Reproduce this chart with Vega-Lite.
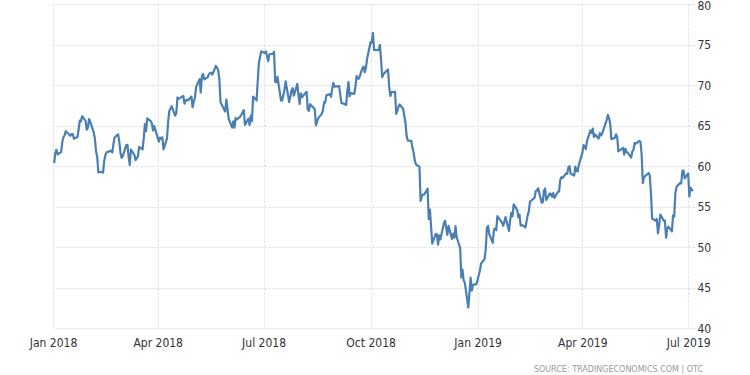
{
  "$schema": "https://vega.github.io/schema/vega-lite/v6.json",
  "autosize": "none",
  "width": 641,
  "height": 324,
  "padding": {"left": 53, "top": 4, "right": 56, "bottom": 47},
  "background": "white",
  "config": {
    "view": {"stroke": null},
    "font": "DejaVu Sans Condensed",
    "axis": {"labelFont": "DejaVu Sans Condensed", "labelFontSize": 12, "labelColor": "#333333"}
  },
  "title": {
    "text": "SOURCE: TRADINGECONOMICS.COM | OTC",
    "orient": "bottom",
    "anchor": "end",
    "frame": "group",
    "fontSize": 8,
    "fontWeight": "normal",
    "color": "#9a9a9a",
    "font": "DejaVu Sans",
    "offset": 18,
    "dx": 9
  },
  "data": {
    "values": [
      {"date": "2018-01-02", "price": 60.37}, {"date": "2018-01-03", "price": 61.63}, {"date": "2018-01-04", "price": 62.01}, {"date": "2018-01-05", "price": 61.44},
      {"date": "2018-01-08", "price": 61.73}, {"date": "2018-01-09", "price": 62.96}, {"date": "2018-01-10", "price": 63.57}, {"date": "2018-01-11", "price": 63.8},
      {"date": "2018-01-12", "price": 64.3}, {"date": "2018-01-16", "price": 63.73}, {"date": "2018-01-17", "price": 63.97}, {"date": "2018-01-18", "price": 63.95},
      {"date": "2018-01-19", "price": 63.37}, {"date": "2018-01-22", "price": 63.57}, {"date": "2018-01-23", "price": 64.47}, {"date": "2018-01-24", "price": 65.61},
      {"date": "2018-01-25", "price": 65.51}, {"date": "2018-01-26", "price": 66.14}, {"date": "2018-01-29", "price": 65.56}, {"date": "2018-01-30", "price": 64.5},
      {"date": "2018-01-31", "price": 64.73}, {"date": "2018-02-01", "price": 65.8}, {"date": "2018-02-02", "price": 65.45}, {"date": "2018-02-05", "price": 64.15},
      {"date": "2018-02-06", "price": 63.39}, {"date": "2018-02-07", "price": 61.79}, {"date": "2018-02-08", "price": 61.15}, {"date": "2018-02-09", "price": 59.2},
      {"date": "2018-02-12", "price": 59.29}, {"date": "2018-02-13", "price": 59.19}, {"date": "2018-02-14", "price": 60.6}, {"date": "2018-02-15", "price": 61.34},
      {"date": "2018-02-16", "price": 61.68}, {"date": "2018-02-20", "price": 61.9}, {"date": "2018-02-21", "price": 61.68}, {"date": "2018-02-22", "price": 62.77},
      {"date": "2018-02-23", "price": 63.55}, {"date": "2018-02-26", "price": 63.91}, {"date": "2018-02-27", "price": 63.01}, {"date": "2018-02-28", "price": 61.64},
      {"date": "2018-03-01", "price": 60.99}, {"date": "2018-03-02", "price": 61.25}, {"date": "2018-03-05", "price": 62.57}, {"date": "2018-03-06", "price": 62.6},
      {"date": "2018-03-07", "price": 61.15}, {"date": "2018-03-08", "price": 60.12}, {"date": "2018-03-09", "price": 62.04}, {"date": "2018-03-12", "price": 61.36},
      {"date": "2018-03-13", "price": 60.71}, {"date": "2018-03-14", "price": 60.96}, {"date": "2018-03-15", "price": 61.19}, {"date": "2018-03-16", "price": 62.34},
      {"date": "2018-03-19", "price": 62.06}, {"date": "2018-03-20", "price": 63.4}, {"date": "2018-03-21", "price": 65.17}, {"date": "2018-03-22", "price": 64.3},
      {"date": "2018-03-23", "price": 65.88}, {"date": "2018-03-26", "price": 65.55}, {"date": "2018-03-27", "price": 65.25}, {"date": "2018-03-28", "price": 64.38},
      {"date": "2018-03-29", "price": 64.94}, {"date": "2018-04-02", "price": 63.01}, {"date": "2018-04-03", "price": 63.51}, {"date": "2018-04-04", "price": 63.37},
      {"date": "2018-04-05", "price": 63.54}, {"date": "2018-04-06", "price": 62.06}, {"date": "2018-04-09", "price": 63.42}, {"date": "2018-04-10", "price": 65.51},
      {"date": "2018-04-11", "price": 66.82}, {"date": "2018-04-12", "price": 67.07}, {"date": "2018-04-13", "price": 67.39}, {"date": "2018-04-16", "price": 66.22},
      {"date": "2018-04-17", "price": 66.52}, {"date": "2018-04-18", "price": 68.47}, {"date": "2018-04-19", "price": 68.29}, {"date": "2018-04-20", "price": 68.38},
      {"date": "2018-04-23", "price": 68.64}, {"date": "2018-04-24", "price": 67.7}, {"date": "2018-04-25", "price": 68.05}, {"date": "2018-04-26", "price": 68.19},
      {"date": "2018-04-27", "price": 68.1}, {"date": "2018-04-30", "price": 68.57}, {"date": "2018-05-01", "price": 67.25}, {"date": "2018-05-02", "price": 67.93},
      {"date": "2018-05-03", "price": 68.43}, {"date": "2018-05-04", "price": 69.72}, {"date": "2018-05-07", "price": 70.73}, {"date": "2018-05-08", "price": 69.06},
      {"date": "2018-05-09", "price": 71.14}, {"date": "2018-05-10", "price": 71.36}, {"date": "2018-05-11", "price": 70.7}, {"date": "2018-05-14", "price": 70.96},
      {"date": "2018-05-15", "price": 71.31}, {"date": "2018-05-16", "price": 71.49}, {"date": "2018-05-17", "price": 71.49}, {"date": "2018-05-18", "price": 71.28},
      {"date": "2018-05-21", "price": 72.35}, {"date": "2018-05-22", "price": 72.13}, {"date": "2018-05-23", "price": 71.84}, {"date": "2018-05-24", "price": 70.71},
      {"date": "2018-05-25", "price": 67.88}, {"date": "2018-05-29", "price": 66.73}, {"date": "2018-05-30", "price": 68.21}, {"date": "2018-05-31", "price": 67.04},
      {"date": "2018-06-01", "price": 65.81}, {"date": "2018-06-04", "price": 64.75}, {"date": "2018-06-05", "price": 65.52}, {"date": "2018-06-06", "price": 64.73},
      {"date": "2018-06-07", "price": 65.95}, {"date": "2018-06-08", "price": 65.74}, {"date": "2018-06-11", "price": 66.1}, {"date": "2018-06-12", "price": 66.36},
      {"date": "2018-06-13", "price": 66.64}, {"date": "2018-06-14", "price": 66.89}, {"date": "2018-06-15", "price": 65.06}, {"date": "2018-06-18", "price": 65.85},
      {"date": "2018-06-19", "price": 65.07}, {"date": "2018-06-20", "price": 66.22}, {"date": "2018-06-21", "price": 65.54}, {"date": "2018-06-22", "price": 68.58},
      {"date": "2018-06-25", "price": 68.08}, {"date": "2018-06-26", "price": 70.53}, {"date": "2018-06-27", "price": 72.76}, {"date": "2018-06-28", "price": 73.45},
      {"date": "2018-06-29", "price": 74.15}, {"date": "2018-07-02", "price": 73.94}, {"date": "2018-07-03", "price": 74.14}, {"date": "2018-07-05", "price": 72.94},
      {"date": "2018-07-06", "price": 73.8}, {"date": "2018-07-09", "price": 73.85}, {"date": "2018-07-10", "price": 74.11}, {"date": "2018-07-11", "price": 70.38},
      {"date": "2018-07-12", "price": 70.33}, {"date": "2018-07-13", "price": 71.01}, {"date": "2018-07-16", "price": 68.06}, {"date": "2018-07-17", "price": 68.08},
      {"date": "2018-07-18", "price": 68.76}, {"date": "2018-07-19", "price": 69.46}, {"date": "2018-07-20", "price": 70.46}, {"date": "2018-07-23", "price": 67.89},
      {"date": "2018-07-24", "price": 68.52}, {"date": "2018-07-25", "price": 69.3}, {"date": "2018-07-26", "price": 69.61}, {"date": "2018-07-27", "price": 68.69},
      {"date": "2018-07-30", "price": 70.13}, {"date": "2018-07-31", "price": 68.76}, {"date": "2018-08-01", "price": 67.66}, {"date": "2018-08-02", "price": 68.96},
      {"date": "2018-08-03", "price": 68.49}, {"date": "2018-08-06", "price": 69.01}, {"date": "2018-08-07", "price": 69.17}, {"date": "2018-08-08", "price": 66.94},
      {"date": "2018-08-09", "price": 66.81}, {"date": "2018-08-10", "price": 67.63}, {"date": "2018-08-13", "price": 67.2}, {"date": "2018-08-14", "price": 67.04},
      {"date": "2018-08-15", "price": 65.01}, {"date": "2018-08-16", "price": 65.46}, {"date": "2018-08-17", "price": 65.91}, {"date": "2018-08-20", "price": 66.43},
      {"date": "2018-08-21", "price": 66.84}, {"date": "2018-08-22", "price": 67.86}, {"date": "2018-08-23", "price": 67.83}, {"date": "2018-08-24", "price": 68.72},
      {"date": "2018-08-27", "price": 68.87}, {"date": "2018-08-28", "price": 68.53}, {"date": "2018-08-29", "price": 69.51}, {"date": "2018-08-30", "price": 70.25},
      {"date": "2018-08-31", "price": 69.8}, {"date": "2018-09-04", "price": 69.87}, {"date": "2018-09-05", "price": 68.72}, {"date": "2018-09-06", "price": 67.77},
      {"date": "2018-09-07", "price": 67.75}, {"date": "2018-09-10", "price": 67.54}, {"date": "2018-09-11", "price": 69.25}, {"date": "2018-09-12", "price": 70.37},
      {"date": "2018-09-13", "price": 68.59}, {"date": "2018-09-14", "price": 68.99}, {"date": "2018-09-17", "price": 68.91}, {"date": "2018-09-18", "price": 69.85},
      {"date": "2018-09-19", "price": 71.12}, {"date": "2018-09-20", "price": 70.8}, {"date": "2018-09-21", "price": 70.78}, {"date": "2018-09-24", "price": 72.08},
      {"date": "2018-09-25", "price": 72.28}, {"date": "2018-09-26", "price": 71.57}, {"date": "2018-09-27", "price": 72.12}, {"date": "2018-09-28", "price": 73.25},
      {"date": "2018-10-01", "price": 75.3}, {"date": "2018-10-02", "price": 75.23}, {"date": "2018-10-03", "price": 76.41}, {"date": "2018-10-04", "price": 74.33},
      {"date": "2018-10-05", "price": 74.34}, {"date": "2018-10-08", "price": 74.29}, {"date": "2018-10-09", "price": 74.96}, {"date": "2018-10-10", "price": 73.17},
      {"date": "2018-10-11", "price": 70.97}, {"date": "2018-10-12", "price": 71.34}, {"date": "2018-10-15", "price": 71.78}, {"date": "2018-10-16", "price": 71.92},
      {"date": "2018-10-17", "price": 69.75}, {"date": "2018-10-18", "price": 68.65}, {"date": "2018-10-19", "price": 69.12}, {"date": "2018-10-22", "price": 69.17},
      {"date": "2018-10-23", "price": 66.43}, {"date": "2018-10-24", "price": 66.82}, {"date": "2018-10-25", "price": 67.33}, {"date": "2018-10-26", "price": 67.59},
      {"date": "2018-10-29", "price": 67.04}, {"date": "2018-10-30", "price": 66.18}, {"date": "2018-10-31", "price": 65.31}, {"date": "2018-11-01", "price": 63.69},
      {"date": "2018-11-02", "price": 63.14}, {"date": "2018-11-05", "price": 63.1}, {"date": "2018-11-06", "price": 62.21}, {"date": "2018-11-07", "price": 61.67},
      {"date": "2018-11-08", "price": 60.67}, {"date": "2018-11-09", "price": 60.19}, {"date": "2018-11-12", "price": 59.93}, {"date": "2018-11-13", "price": 55.69},
      {"date": "2018-11-14", "price": 56.25}, {"date": "2018-11-15", "price": 56.46}, {"date": "2018-11-16", "price": 56.46}, {"date": "2018-11-19", "price": 57.2},
      {"date": "2018-11-20", "price": 53.43}, {"date": "2018-11-21", "price": 54.63}, {"date": "2018-11-23", "price": 50.42}, {"date": "2018-11-26", "price": 51.63},
      {"date": "2018-11-27", "price": 51.56}, {"date": "2018-11-28", "price": 50.29}, {"date": "2018-11-29", "price": 51.45}, {"date": "2018-11-30", "price": 50.93},
      {"date": "2018-12-03", "price": 52.95}, {"date": "2018-12-04", "price": 53.25}, {"date": "2018-12-06", "price": 51.49}, {"date": "2018-12-07", "price": 52.61},
      {"date": "2018-12-10", "price": 51.0}, {"date": "2018-12-11", "price": 51.65}, {"date": "2018-12-12", "price": 51.15}, {"date": "2018-12-13", "price": 52.58},
      {"date": "2018-12-14", "price": 51.2}, {"date": "2018-12-17", "price": 49.88}, {"date": "2018-12-18", "price": 46.24}, {"date": "2018-12-19", "price": 47.2},
      {"date": "2018-12-20", "price": 45.88}, {"date": "2018-12-21", "price": 45.59}, {"date": "2018-12-24", "price": 42.53}, {"date": "2018-12-26", "price": 46.22},
      {"date": "2018-12-27", "price": 44.61}, {"date": "2018-12-28", "price": 45.33}, {"date": "2018-12-31", "price": 45.41}, {"date": "2019-01-02", "price": 46.54},
      {"date": "2019-01-03", "price": 47.09}, {"date": "2019-01-04", "price": 47.96}, {"date": "2019-01-07", "price": 48.52}, {"date": "2019-01-08", "price": 49.78},
      {"date": "2019-01-09", "price": 52.36}, {"date": "2019-01-10", "price": 52.59}, {"date": "2019-01-11", "price": 51.59}, {"date": "2019-01-14", "price": 50.51},
      {"date": "2019-01-15", "price": 52.11}, {"date": "2019-01-16", "price": 52.31}, {"date": "2019-01-17", "price": 52.07}, {"date": "2019-01-18", "price": 53.8},
      {"date": "2019-01-22", "price": 53.01}, {"date": "2019-01-23", "price": 52.62}, {"date": "2019-01-24", "price": 53.13}, {"date": "2019-01-25", "price": 53.69},
      {"date": "2019-01-28", "price": 51.99}, {"date": "2019-01-29", "price": 53.31}, {"date": "2019-01-30", "price": 54.23}, {"date": "2019-01-31", "price": 53.79},
      {"date": "2019-02-01", "price": 55.26}, {"date": "2019-02-04", "price": 54.56}, {"date": "2019-02-05", "price": 53.66}, {"date": "2019-02-06", "price": 54.01},
      {"date": "2019-02-07", "price": 52.64}, {"date": "2019-02-08", "price": 52.72}, {"date": "2019-02-11", "price": 52.41}, {"date": "2019-02-12", "price": 53.1},
      {"date": "2019-02-13", "price": 53.9}, {"date": "2019-02-14", "price": 54.41}, {"date": "2019-02-15", "price": 55.59}, {"date": "2019-02-19", "price": 56.09},
      {"date": "2019-02-20", "price": 56.92}, {"date": "2019-02-21", "price": 56.96}, {"date": "2019-02-22", "price": 57.26}, {"date": "2019-02-25", "price": 55.48},
      {"date": "2019-02-26", "price": 55.5}, {"date": "2019-02-27", "price": 56.94}, {"date": "2019-02-28", "price": 57.22}, {"date": "2019-03-01", "price": 55.8},
      {"date": "2019-03-04", "price": 56.59}, {"date": "2019-03-05", "price": 56.56}, {"date": "2019-03-06", "price": 56.22}, {"date": "2019-03-07", "price": 56.66},
      {"date": "2019-03-08", "price": 56.07}, {"date": "2019-03-11", "price": 56.79}, {"date": "2019-03-12", "price": 56.87}, {"date": "2019-03-13", "price": 58.26},
      {"date": "2019-03-14", "price": 58.61}, {"date": "2019-03-15", "price": 58.52}, {"date": "2019-03-18", "price": 59.09}, {"date": "2019-03-19", "price": 59.03},
      {"date": "2019-03-20", "price": 59.83}, {"date": "2019-03-21", "price": 59.98}, {"date": "2019-03-22", "price": 59.04}, {"date": "2019-03-25", "price": 58.82},
      {"date": "2019-03-26", "price": 59.94}, {"date": "2019-03-27", "price": 59.41}, {"date": "2019-03-28", "price": 59.3}, {"date": "2019-03-29", "price": 60.14},
      {"date": "2019-04-01", "price": 61.59}, {"date": "2019-04-02", "price": 62.58}, {"date": "2019-04-03", "price": 62.46}, {"date": "2019-04-04", "price": 62.1},
      {"date": "2019-04-05", "price": 63.08}, {"date": "2019-04-08", "price": 64.4}, {"date": "2019-04-09", "price": 64.07}, {"date": "2019-04-10", "price": 64.61},
      {"date": "2019-04-11", "price": 63.58}, {"date": "2019-04-12", "price": 63.89}, {"date": "2019-04-15", "price": 63.4}, {"date": "2019-04-16", "price": 64.05},
      {"date": "2019-04-17", "price": 63.76}, {"date": "2019-04-18", "price": 64.0}, {"date": "2019-04-22", "price": 65.7}, {"date": "2019-04-23", "price": 66.3},
      {"date": "2019-04-24", "price": 65.89}, {"date": "2019-04-25", "price": 65.21}, {"date": "2019-04-26", "price": 63.3}, {"date": "2019-04-29", "price": 63.5},
      {"date": "2019-04-30", "price": 63.91}, {"date": "2019-05-01", "price": 63.6}, {"date": "2019-05-02", "price": 61.81}, {"date": "2019-05-03", "price": 61.94},
      {"date": "2019-05-06", "price": 62.25}, {"date": "2019-05-07", "price": 61.4}, {"date": "2019-05-08", "price": 62.12}, {"date": "2019-05-09", "price": 61.7},
      {"date": "2019-05-10", "price": 61.66}, {"date": "2019-05-13", "price": 61.04}, {"date": "2019-05-14", "price": 61.78}, {"date": "2019-05-15", "price": 62.02},
      {"date": "2019-05-16", "price": 62.87}, {"date": "2019-05-17", "price": 62.76}, {"date": "2019-05-20", "price": 63.1}, {"date": "2019-05-21", "price": 62.99},
      {"date": "2019-05-22", "price": 61.42}, {"date": "2019-05-23", "price": 57.91}, {"date": "2019-05-24", "price": 58.63}, {"date": "2019-05-28", "price": 59.14},
      {"date": "2019-05-29", "price": 58.81}, {"date": "2019-05-30", "price": 56.59}, {"date": "2019-05-31", "price": 53.5}, {"date": "2019-06-03", "price": 53.25},
      {"date": "2019-06-04", "price": 53.48}, {"date": "2019-06-05", "price": 51.68}, {"date": "2019-06-06", "price": 52.59}, {"date": "2019-06-07", "price": 53.99},
      {"date": "2019-06-10", "price": 53.26}, {"date": "2019-06-11", "price": 53.27}, {"date": "2019-06-12", "price": 51.14}, {"date": "2019-06-13", "price": 52.28},
      {"date": "2019-06-14", "price": 52.51}, {"date": "2019-06-17", "price": 51.93}, {"date": "2019-06-18", "price": 53.9}, {"date": "2019-06-19", "price": 53.76},
      {"date": "2019-06-20", "price": 56.65}, {"date": "2019-06-21", "price": 57.43}, {"date": "2019-06-24", "price": 57.9}, {"date": "2019-06-25", "price": 57.83},
      {"date": "2019-06-26", "price": 59.38}, {"date": "2019-06-27", "price": 59.43}, {"date": "2019-06-28", "price": 58.47}, {"date": "2019-07-01", "price": 59.09},
      {"date": "2019-07-02", "price": 56.25}, {"date": "2019-07-03", "price": 57.34}, {"date": "2019-07-05", "price": 56.9}
    ]
  },
  "mark": {"type": "line", "color": "#4a7fb3", "strokeWidth": 2.2, "strokeJoin": "round", "clip": false},
  "encoding": {
    "x": {
      "field": "date",
      "type": "temporal",
      "scale": {
        "type": "utc",
        "domain": [
          {"year": 2018, "month": 1, "date": 1, "utc": true},
          {"year": 2019, "month": 7, "date": 6, "utc": true}
        ]
      },
      "axis": {
        "title": null,
        "values": [
          {"year": 2018, "month": 1, "date": 1, "utc": true},
          {"year": 2018, "month": 4, "date": 1, "utc": true},
          {"year": 2018, "month": 7, "date": 1, "utc": true},
          {"year": 2018, "month": 10, "date": 1, "utc": true},
          {"year": 2019, "month": 1, "date": 1, "utc": true},
          {"year": 2019, "month": 4, "date": 1, "utc": true},
          {"year": 2019, "month": 7, "date": 1, "utc": true}
        ],
        "labelExpr": "utcFormat(datum.value, '%b %Y')",
        "domain": false,
        "ticks": false,
        "labelPadding": 9,
        "labelOverlap": false,
        "labelFlush": false,
        "grid": true,
        "gridColor": "#d9d9d9",
        "gridDash": [2, 2],
        "gridWidth": 1
      }
    },
    "y": {
      "field": "price",
      "type": "quantitative",
      "scale": {"domain": [40, 80], "nice": false, "zero": false},
      "axis": {
        "title": null,
        "orient": "right",
        "values": [40, 45, 50, 55, 60, 65, 70, 75, 80],
        "domain": false,
        "ticks": false,
        "labelPadding": 3,
        "labelAlign": "left",
        "labelBaseline": {"condition": {"test": "datum.value == 80", "value": "top"}, "value": "middle"},
        "labelOffset": {"condition": {"test": "datum.value == 80", "value": -4}, "value": 0},
        "grid": true,
        "gridColor": "#d9d9d9",
        "gridDash": [2, 2],
        "gridWidth": 1
      }
    }
  }
}
